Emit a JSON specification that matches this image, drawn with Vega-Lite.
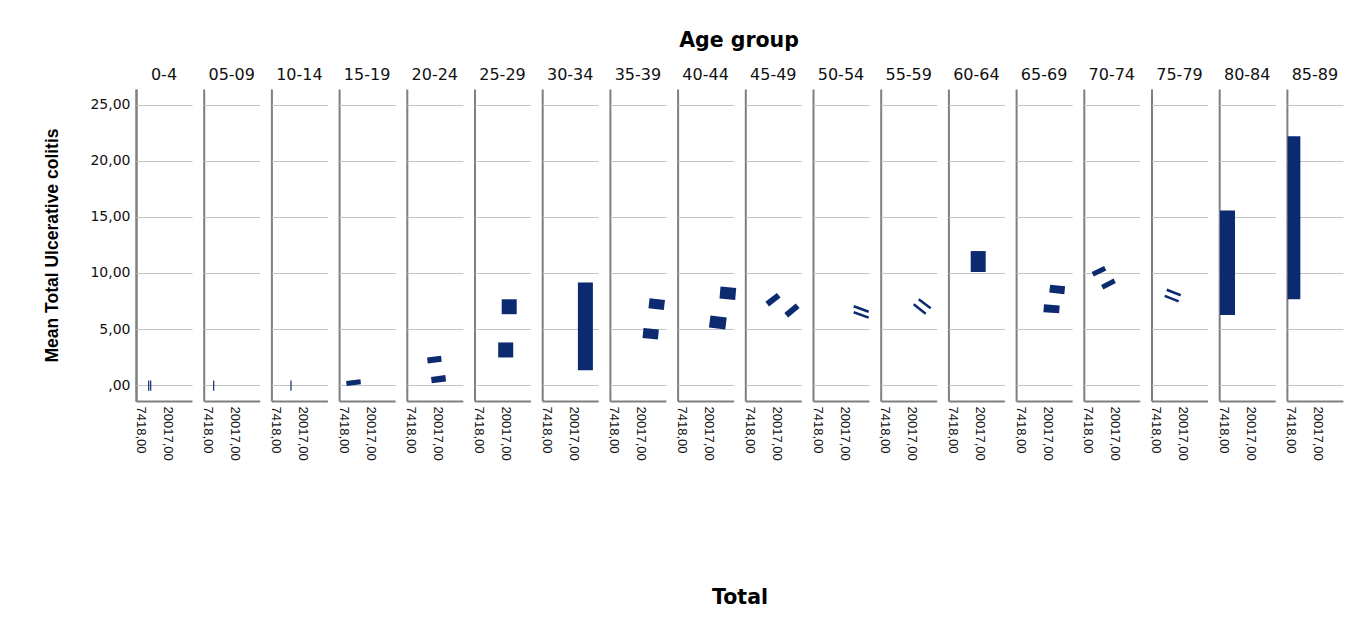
{
  "$schema": "https://vega.github.io/schema/vega-lite/v6.json",
  "background": "white",
  "padding": {"left": 43, "top": 30, "right": 5, "bottom": 5},
  "bounds": "flush",
  "title": {
    "text": "Total",
    "orient": "bottom",
    "anchor": "middle",
    "frame": "group",
    "dx": 604,
    "font": "DejaVu Sans",
    "fontSize": 20.5,
    "fontWeight": "bold",
    "color": "#000000",
    "offset": 128
  },
  "data": {
    "values": [
      {"age": "0-4", "total_a": 11476, "mean_a": -0.5, "total_b": 11476, "mean_b": 0.4, "n": 1.2},
      {"age": "0-4", "total_a": 12409, "mean_a": -0.5, "total_b": 12409, "mean_b": 0.4, "n": 1.2},
      {"age": "05-09", "total_a": 10216, "mean_a": -0.5, "total_b": 10216, "mean_b": 0.4, "n": 1.2},
      {"age": "10-14", "total_a": 14695, "mean_a": -0.5, "total_b": 14695, "mean_b": 0.4, "n": 1.2},
      {"age": "15-19", "total_a": 8956, "mean_a": 0.15, "total_b": 15629, "mean_b": 0.3, "n": 5},
      {"age": "20-24", "total_a": 15162, "mean_a": 2.2, "total_b": 21694, "mean_b": 2.34, "n": 6},
      {"age": "20-24", "total_a": 17028, "mean_a": 0.44, "total_b": 23701, "mean_b": 0.6, "n": 6.5},
      {"age": "25-29", "total_a": 21741, "mean_a": 7.65, "total_b": 21741, "mean_b": 6.32, "n": 15},
      {"age": "25-29", "total_a": 20108, "mean_a": 3.8, "total_b": 20108, "mean_b": 2.46, "n": 15},
      {"age": "30-34", "total_a": 25707, "mean_a": 9.14, "total_b": 25707, "mean_b": 1.33, "n": 15},
      {"age": "35-39", "total_a": 23794, "mean_a": 7.3, "total_b": 30980, "mean_b": 7.14, "n": 10},
      {"age": "35-39", "total_a": 20994, "mean_a": 4.65, "total_b": 28180, "mean_b": 4.51, "n": 10},
      {"age": "40-44", "total_a": 25334, "mean_a": 8.25, "total_b": 32659, "mean_b": 8.13, "n": 12},
      {"age": "40-44", "total_a": 20528, "mean_a": 5.67, "total_b": 28133, "mean_b": 5.49, "n": 12},
      {"age": "45-49", "total_a": 15769, "mean_a": 7.21, "total_b": 21135, "mean_b": 8.01, "n": 6},
      {"age": "45-49", "total_a": 24634, "mean_a": 6.23, "total_b": 29999, "mean_b": 7.07, "n": 6},
      {"age": "50-54", "total_a": 24541, "mean_a": 7.03, "total_b": 31540, "mean_b": 6.54, "n": 2.5},
      {"age": "50-54", "total_a": 24541, "mean_a": 6.49, "total_b": 31540, "mean_b": 6.01, "n": 2.5},
      {"age": "55-59", "total_a": 23281, "mean_a": 7.65, "total_b": 28880, "mean_b": 6.85, "n": 2.5},
      {"age": "55-59", "total_a": 20948, "mean_a": 7.21, "total_b": 26547, "mean_b": 6.36, "n": 2.5},
      {"age": "60-64", "total_a": 19455, "mean_a": 11.95, "total_b": 19455, "mean_b": 10.08, "n": 15},
      {"age": "65-69", "total_a": 21228, "mean_a": 8.6, "total_b": 28227, "mean_b": 8.45, "n": 8},
      {"age": "65-69", "total_a": 18428, "mean_a": 6.85, "total_b": 25754, "mean_b": 6.75, "n": 8},
      {"age": "70-74", "total_a": 9703, "mean_a": 9.88, "total_b": 15536, "mean_b": 10.41, "n": 5},
      {"age": "70-74", "total_a": 14135, "mean_a": 8.72, "total_b": 19968, "mean_b": 9.3, "n": 5},
      {"age": "75-79", "total_a": 12642, "mean_a": 8.5, "total_b": 19175, "mean_b": 8.01, "n": 2.5},
      {"age": "75-79", "total_a": 11709, "mean_a": 7.96, "total_b": 18242, "mean_b": 7.47, "n": 2.5},
      {"age": "80-84", "total_a": 9423, "mean_a": 15.57, "total_b": 9423, "mean_b": 6.25, "n": 15},
      {"age": "85-89", "total_a": 8863, "mean_a": 22.18, "total_b": 8863, "mean_b": 7.65, "n": 12.7}
    ]
  },
  "facet": {
    "column": {
      "field": "age",
      "type": "nominal",
      "sort": ["0-4", "05-09", "10-14", "15-19", "20-24", "25-29", "30-34", "35-39", "40-44", "45-49", "50-54", "55-59", "60-64", "65-69", "70-74", "75-79", "80-84", "85-89"],
      "header": {
        "title": "Age group",
        "titleFont": "DejaVu Sans",
        "titleFontSize": 20.5,
        "titleFontWeight": "bold",
        "titleColor": "#000000",
        "titlePadding": 6,
        "labelFont": "DejaVu Sans",
        "labelFontSize": 16,
        "labelColor": "#111111",
        "labelPadding": 6
      }
    }
  },
  "spacing": {"column": 11.7},
  "spec": {
    "width": 56,
    "height": 312,
    "mark": {"type": "rule", "color": "#0b2a6f", "strokeCap": "butt"},
    "encoding": {
      "x": {
        "field": "total_a",
        "type": "quantitative",
        "scale": {"domain": [5550, 31680], "nice": false, "zero": false},
        "axis": {
          "title": null,
          "values": [5550, 7418, 20017],
          "labelExpr": "datum.value == 5550 ? '' : replace(format(datum.value, '.2f'), '.', ',')",
          "labelAngle": 90,
          "labelAlign": "left",
          "labelBaseline": "middle",
          "labelFont": "Liberation Sans",
          "labelFontSize": 13,
          "labelColor": "#111111",
          "labelPadding": 5,
          "ticks": false,
          "domainColor": "#7f7f7f",
          "domainWidth": 2,
          "grid": true,
          "gridColor": "#7f7f7f",
          "gridWidth": 2,
          "gridOpacity": {"condition": {"test": "datum.value == 5550", "value": 1}, "value": 0}
        }
      },
      "x2": {"field": "total_b"},
      "y": {
        "field": "mean_a",
        "type": "quantitative",
        "scale": {"domain": [-1.42, 26.4], "nice": false, "zero": false},
        "axis": {
          "title": "Mean Total Ulcerative colitis",
          "titleFont": "Liberation Sans",
          "titleFontSize": 17.5,
          "titleFontWeight": "bold",
          "titleColor": "#000000",
          "titlePadding": 28,
          "values": [0, 5, 10, 15, 20, 25],
          "labelExpr": "datum.value == 0 ? ',00' : replace(format(datum.value, '.2f'), '.', ',')",
          "labelFont": "DejaVu Sans",
          "labelFontSize": 14,
          "labelColor": "#111111",
          "labelPadding": 6,
          "ticks": false,
          "domainColor": "#7f7f7f",
          "domainWidth": 2,
          "grid": true,
          "gridColor": "#c4c4c4",
          "gridWidth": 1
        }
      },
      "y2": {"field": "mean_b"},
      "size": {
        "field": "n",
        "type": "quantitative",
        "scale": {"type": "linear", "domain": [0, 15], "range": [0, 15]},
        "legend": null
      }
    }
  },
  "config": {
    "view": {"stroke": null}
  }
}
